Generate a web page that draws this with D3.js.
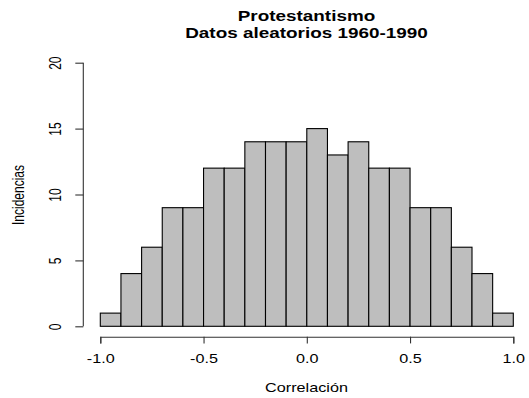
<!DOCTYPE html>
<html>
<head>
<meta charset="utf-8">
<script src="https://cdn.jsdelivr.net/npm/d3@7"></script>
<style>
  html, body { margin: 0; padding: 0; background: #fff; }
  svg text { font-family: "Liberation Sans", Arial, Helvetica, sans-serif; fill: #000; }
</style>
</head>
<body>
<svg id="chart" width="529" height="398"></svg>
<script>
// Data
const binStarts = [-1.0,-0.9,-0.8,-0.7,-0.6,-0.5,-0.4,-0.3,-0.2,-0.1,0.0,0.1,0.2,0.3,0.4,0.5,0.6,0.7,0.8,0.9];
const binWidth = 0.1;
const counts = [1,4,6,9,9,12,12,14,14,14,15,13,14,12,12,9,9,6,4,1];
const xTicks = [-1.0,-0.5,0.0,0.5,1.0];
const yTicks = [0,5,10,15,20];
const titleLines = ["Protestantismo","Datos aleatorios 1960-1990"];
const xLabel = "Correlación";
const yLabel = "Incidencias";

const SX = 1.35; // horizontal stretch of text as in reference
const svg = d3.select("#chart");
const x = d3.scaleLinear().domain([-1, 1]).range([100.3, 513.3]);
const y = d3.scaleLinear().domain([0, 20]).range([326.3, 62.7]);

// bars
svg.append("g").selectAll("rect").data(binStarts).join("rect")
  .attr("x", d => x(d))
  .attr("width", d => x(d + binWidth) - x(d))
  .attr("y", (d,i) => y(counts[i]))
  .attr("height", (d,i) => y(0) - y(counts[i]))
  .attr("fill", "#bebebe")
  .attr("stroke", "#000")
  .attr("stroke-width", 1.1);

// x axis
const gx = svg.append("g").attr("transform", "translate(0,336.7)")
  .call(d3.axisBottom(x).tickValues(xTicks).tickSizeOuter(0).tickSize(6.7).tickFormat(d3.format(".1f")));
gx.selectAll("path, line").attr("stroke", "#333").attr("stroke-width", 1.1);
gx.selectAll("text")
  .attr("y", null).attr("dy", "0.35em")
  .attr("font-size", 12)
  .attr("transform", "translate(0,22.5) scale(" + SX + ",1)")
  .text(d => d3.format(".1f")(d).replace("−", "-"));

// y axis
const gy = svg.append("g").attr("transform", "translate(83.3,0)")
  .call(d3.axisLeft(y).tickValues(yTicks).tickSizeOuter(0).tickSize(8));
gy.selectAll("path, line").attr("stroke", "#333").attr("stroke-width", 1.1);
gy.selectAll("text")
  .attr("x", null).attr("dy", "0.35em")
  .attr("text-anchor", "middle")
  .attr("font-size", 12)
  .attr("transform", "translate(-28.3,0) scale(" + SX + ",1) rotate(-90)");
gy.selectAll(".domain").attr("d", "M0," + y(20) + "V" + y(0));

// titles
titleLines.forEach((t, i) => {
  svg.append("text")
    .attr("transform", "translate(306.5," + (16 + i * 17) + ") scale(" + SX + ",1)")
    .attr("text-anchor", "middle").attr("dy", "0.35em")
    .attr("font-size", 14).attr("font-weight", "bold")
    .text(t);
});

// axis labels
svg.append("text")
  .attr("transform", "translate(306.5,387.3) scale(" + SX + ",1)")
  .attr("text-anchor", "middle").attr("dy", "0.35em")
  .attr("font-size", 12)
  .text(xLabel);
svg.append("text")
  .attr("transform", "translate(18,195) scale(" + SX + ",1) rotate(-90)")
  .attr("text-anchor", "middle").attr("dy", "0.35em")
  .attr("font-size", 12)
  .text(yLabel);
</script>
</body>
</html>
